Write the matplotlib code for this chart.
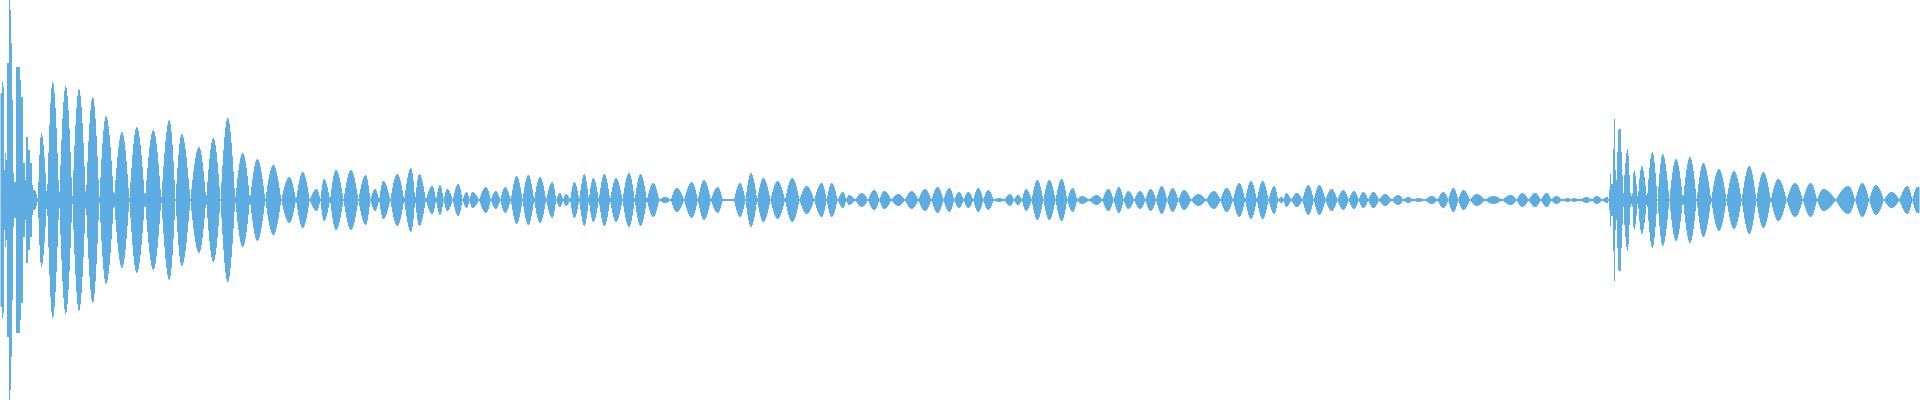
import numpy as np
import matplotlib
matplotlib.use("Agg")
from matplotlib import pyplot as plt

# waveform peaks: position (frame) and half-height
# opening hit, one value per frame
hit1_pos = [0.5, 1.5, 2.5, 3.5, 4.5, 5.5, 6.5, 7.5, 8.5, 9.5, 10.5, 11.5, 12.5, 13.5,
            14.5, 15.5, 16.5, 17.5, 18.5, 19.5, 20.5, 21.5, 22.5, 23.5, 24.5, 25.5,
            26.5, 27.5, 28.5, 29.5, 30.5, 31.5, 32.5, 33.5, 34.5]
hit1_amp = [107, 107, 118, 113, 30, 47, 40, 137, 137, 200, 190, 157, 100, 27,
            18, 18, 133, 133, 133, 133, 120, 103, 103, 37, 37, 20,
            63, 63, 50, 50, 37, 37, 15, 10, 10]

# decaying tail of the first hit and the middle section
body_pos = [41.3, 52.7, 65.7, 79, 92.7, 106, 122, 136.7, 153.3, 169.3, 181.7, 199,
            213.3, 227.7, 242.7, 257.3, 273.3, 289.3, 302.7, 316.7,
            324, 336, 351, 365.7, 375, 383.3, 397.3, 411, 419.3, 432.3, 440, 447.3,
            458.3, 466.7, 472.3, 486, 495.7, 505, 516.7, 528.3, 540, 552.3, 560, 566,
            574.3, 584.3, 593.3, 604.3, 616, 629, 640.5,
            653.3, 665, 676.7, 691.7, 704, 717.7, 728, 740, 751, 763.3, 777.7, 792.3,
            806.7, 821.7, 831.7, 843.3, 849, 861.7, 874.3, 884.3, 898.3, 911.7, 925,
            937.7, 949.3, 959,
            968.3, 978.3, 988.3, 999, 1010, 1018, 1026, 1037.3, 1049.3, 1061.7, 1072.7,
            1081.7, 1096.7, 1108.3, 1119, 1128.3, 1140, 1150.7, 1161.7, 1172.7, 1184,
            1198.3, 1214, 1226.7, 1239.3, 1251, 1262.7, 1274.3,
            1281.7, 1286, 1296.7, 1308.3, 1319.3, 1331.7, 1343.3, 1354, 1363.3, 1373.3,
            1385, 1398.3, 1408.3, 1418.3, 1431.7, 1443.3, 1453.3, 1463.3, 1476.7, 1493.3,
            1511, 1522.3, 1535, 1546.7, 1556, 1568.3, 1573.3, 1586.7, 1596.7]
body_amp = [67, 118, 114, 111, 103, 84, 68, 73, 70, 80, 66, 53,
            62, 82, 47, 41, 35, 23, 28, 11,
            21, 30, 30, 25, 11, 19, 26, 32, 26, 14, 15, 11,
            16, 8, 8, 13, 9, 13, 24, 25, 23, 18, 7, 6,
            18, 26, 22, 26, 22, 27, 26,
            17, 3, 12, 18, 20, 13, 1, 17, 27, 22, 19, 22,
            14, 17, 17, 8, 5, 7, 10, 9, 6, 9, 11,
            13, 12, 8,
            8, 12, 10, 2, 6, 5, 11, 20, 20, 21, 12,
            4, 5, 11, 13, 9, 9, 11, 14, 12, 10,
            6, 9, 12, 17, 19, 19, 14,
            3, 7, 7, 15, 15, 11, 10, 9, 8, 8,
            6, 5, 3, 2, 4, 8, 12, 10, 6, 4,
            5, 7, 7, 7, 4, 2, 2, 3, 4]

# second hit near the end
hit2_pos = [1607.5, 1609.5, 1610.5, 1611.5, 1612.5, 1613.5, 1614.5, 1615.5, 1616.5,
            1617.5, 1618.5, 1619.5, 1620.5, 1621.5, 1622.5, 1623.5, 1624.5, 1625.5,
            1626.5, 1627.5, 1628.5, 1629.5, 1630.5,
            1634, 1641.7, 1652.3, 1662.7, 1676, 1690, 1703.3, 1719, 1734, 1749.3,
            1763.3, 1778.3, 1795, 1810.7, 1823.3, 1848.3, 1862.3, 1876, 1891.7,
            1907.3, 1917.3]
hit2_amp = [3, 10, 26, 16, 16, 51, 81, 30, 20,
            48, 70, 71, 71, 48, 25, 7, 25, 37,
            47, 51, 44, 25, 7,
            30, 34, 48, 46, 41, 43, 37, 31, 29, 34,
            28, 21, 17, 17, 11, 14, 17, 15, 8,
            14, 13]

peak_pos = np.array(hit1_pos + body_pos + hit2_pos, dtype=float)
peak_amp = np.array(hit1_amp + body_amp + hit2_amp, dtype=float)

# envelope per pixel column: each peak falls off as a quarter cosine
# towards the midpoint with its neighbour
x = np.arange(1920) + 0.5
env = np.zeros_like(x)
for k in range(len(x)):
    xi = x[k]
    i = np.searchsorted(peak_pos, xi) - 1
    if i < 0:
        env[k] = peak_amp[0]
        continue
    if i >= len(peak_pos) - 1:
        env[k] = peak_amp[-1]
        continue
    c0, c1 = peak_pos[i], peak_pos[i + 1]
    m = (c0 + c1) / 2
    if xi < m:
        env[k] = peak_amp[i] * np.cos(np.pi / 2 * (xi - c0) / (m - c0))
    else:
        env[k] = peak_amp[i + 1] * np.cos(np.pi / 2 * (c1 - xi) / (c1 - m))
env = np.maximum(env, 1.0)

fig = plt.figure(figsize=(19.2, 4), dpi=100)
ax = fig.add_axes([0, 0, 1, 1])
ax.fill_between(x, -env, env, step='mid', color='#5dade2', linewidth=0)
ax.set_xlim(0, 1920)
ax.set_ylim(-200, 200)
ax.axis('off')
plt.savefig('out.png', dpi=100, facecolor='white')
